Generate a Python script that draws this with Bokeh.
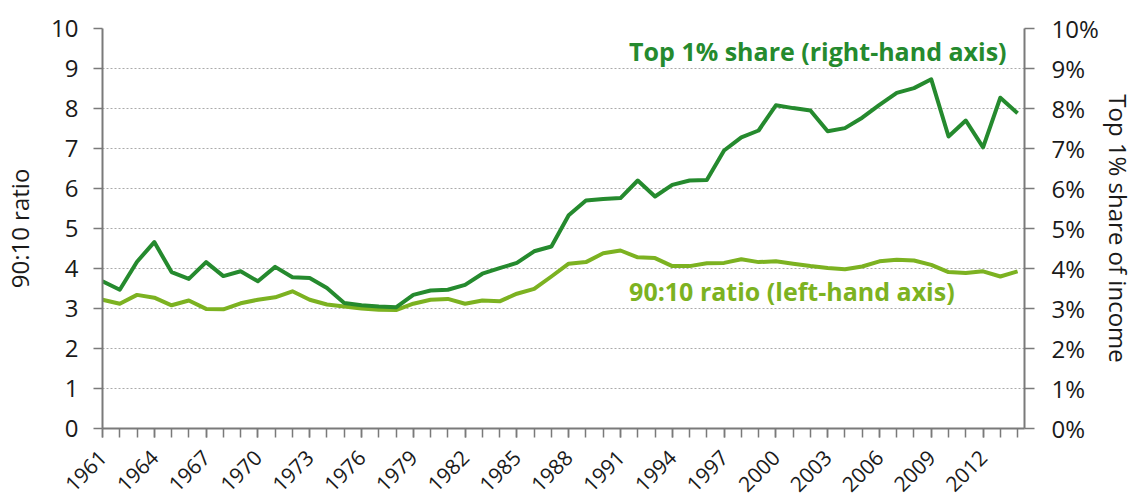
from bokeh.plotting import figure
from bokeh.models import (Range1d, LinearAxis, FixedTicker, PrintfTickFormatter,
                          Label, ColumnDataSource)
from bokeh.embed import file_html
from bokeh.resources import INLINE
import math

years = list(range(1961, 2015))

ratio_90_10 = [3.22, 3.12, 3.34, 3.27, 3.08, 3.20, 2.99, 2.98, 3.13, 3.22,
               3.28, 3.43, 3.22, 3.10, 3.05, 3.00, 2.97, 2.96, 3.12, 3.22,
               3.24, 3.12, 3.20, 3.18, 3.37, 3.49, 3.80, 4.12, 4.16, 4.38,
               4.45, 4.28, 4.26, 4.06, 4.06, 4.13, 4.14, 4.23, 4.16, 4.18,
               4.12, 4.06, 4.01, 3.98, 4.05, 4.18, 4.22, 4.20, 4.09, 3.91,
               3.89, 3.93, 3.80, 3.93]

top1_share = [3.68, 3.47, 4.17, 4.66, 3.91, 3.74, 4.16, 3.81, 3.93, 3.68,
              4.04, 3.78, 3.76, 3.51, 3.14, 3.08, 3.05, 3.03, 3.34, 3.45,
              3.47, 3.59, 3.87, 4.01, 4.14, 4.43, 4.55, 5.33, 5.70, 5.74,
              5.76, 6.20, 5.80, 6.09, 6.20, 6.21, 6.95, 7.28, 7.45, 8.08,
              8.01, 7.95, 7.43, 7.51, 7.77, 8.09, 8.39, 8.51, 8.73, 7.30,
              7.70, 7.03, 8.27, 7.88]

year_tick_labels = list(range(1961, 2015, 3))
left_ticks = list(range(0, 11))
right_ticks = list(range(0, 11))

DARK = "#258a2e"
LIGHT = "#7cb221"
FONT = "Open Sans"
AXIS_C = "#7a7a7a"
TXT = "#1a1a1a"

src = ColumnDataSource(dict(year=years, ratio=ratio_90_10, top=top1_share))

p = figure(frame_width=922, frame_height=400, output_backend="svg",
           toolbar_location=None,
           x_range=Range1d(1961, 2014.4), y_range=Range1d(0, 10),
           min_border_left=100, min_border_right=100, min_border_top=28,
           min_border_bottom=70)
p.extra_y_ranges = {"right": Range1d(0, 10)}
p.outline_line_color = None
p.background_fill_color = "white"
p.border_fill_color = "white"

p.xgrid.visible = False
p.ygrid.grid_line_color = "#aaaaaa"
p.ygrid.grid_line_dash = "2 2"
p.ygrid.grid_line_width = 1

# left axis
ya = p.yaxis[0]
ya.ticker = FixedTicker(ticks=left_ticks)
ya.axis_label = "90:10 ratio"
ya.axis_label_text_font = FONT
ya.axis_label_text_font_size = "24px"
ya.axis_label_text_font_style = "normal"
ya.axis_label_text_color = TXT
ya.axis_label_standoff = 12
ya.major_label_text_font = FONT
ya.major_label_text_font_size = "24px"
ya.major_label_text_color = TXT
ya.major_label_standoff = 15
ya.major_tick_out = 9
ya.major_tick_in = 0
ya.minor_tick_out = 0
ya.minor_tick_in = 0
ya.axis_line_color = AXIS_C
ya.axis_line_width = 2
ya.major_tick_line_color = AXIS_C
ya.major_tick_line_width = 1.5

# right axis
ra = LinearAxis(y_range_name="right", ticker=FixedTicker(ticks=right_ticks),
                formatter=PrintfTickFormatter(format="%d%%"))
ra.axis_label = "Top 1% share of income"
ra.axis_label_text_font = FONT
ra.axis_label_text_font_size = "24px"
ra.axis_label_text_font_style = "normal"
ra.axis_label_text_color = TXT
ra.axis_label_standoff = 0
ra.major_label_text_font = FONT
ra.major_label_text_font_size = "24px"
ra.major_label_text_color = TXT
ra.major_label_standoff = 17
ra.major_tick_out = 10
ra.major_tick_in = 0
ra.minor_tick_out = 0
ra.minor_tick_in = 0
ra.axis_line_color = AXIS_C
ra.axis_line_width = 2
ra.major_tick_line_color = AXIS_C
ra.major_tick_line_width = 1.5
p.add_layout(ra, "right")

# bottom axis
xa = p.xaxis[0]
xa.ticker = FixedTicker(ticks=year_tick_labels, minor_ticks=years)
xa.major_label_orientation = math.pi / 4
xa.major_label_text_font = FONT
xa.major_label_text_font_size = "21px"
xa.major_label_text_color = TXT
xa.major_label_standoff = 16
xa.major_tick_out = 9
xa.major_tick_in = 0
xa.minor_tick_out = 9
xa.minor_tick_in = 0
xa.axis_line_color = AXIS_C
xa.axis_line_width = 2
xa.major_tick_line_color = AXIS_C
xa.minor_tick_line_color = AXIS_C
xa.major_tick_line_width = 1.5
xa.minor_tick_line_width = 1.5

p.line("year", "ratio", source=src, line_color=LIGHT, line_width=4,
       line_join="round")
p.line("year", "top", source=src, line_color=DARK, line_width=4,
       line_join="round", y_range_name="right")

p.add_layout(Label(x=1991.5, y=9.45, text="Top 1% share (right-hand axis)",
                   text_font=FONT, text_font_size="25px", text_font_style="bold",
                   text_color=DARK, text_baseline="middle", text_align="left"))
p.add_layout(Label(x=1991.5, y=3.45, text="90:10 ratio (left-hand axis)",
                   text_font=FONT, text_font_size="25px", text_font_style="bold",
                   text_color=LIGHT, text_baseline="middle", text_align="left"))

open("out.html", "w").write(file_html(p, INLINE))
